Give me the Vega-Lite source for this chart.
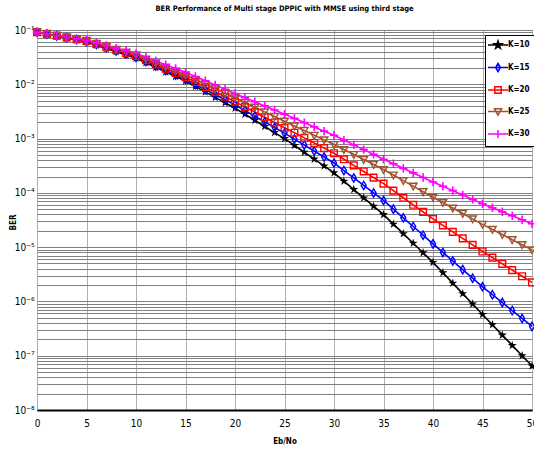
{
"$schema": "https://vega.github.io/schema/vega-lite/v6.json",
"width": 495, "height": 380,
"autosize": {"type": "none"},
"padding": {"left": 37, "top": 30, "right": 2, "bottom": 42},
"background": "white",
"title": {"text": "BER Performance of Multi stage DPPIC with MMSE  using third stage", "fontSize": 7.5, "fontWeight": "bold", "anchor": "middle", "offset": 12, "color": "black"},
"datasets": {"ber": [
{"EbNo":0,"K":"K=10","BER":9.12e-2},{"EbNo":1,"K":"K=10","BER":8.39e-2},{"EbNo":2,"K":"K=10","BER":7.73e-2},{"EbNo":3,"K":"K=10","BER":7.11e-2},{"EbNo":4,"K":"K=10","BER":6.55e-2},{"EbNo":5,"K":"K=10","BER":6.03e-2},{"EbNo":6,"K":"K=10","BER":5.25e-2},{"EbNo":7,"K":"K=10","BER":4.57e-2},{"EbNo":8,"K":"K=10","BER":3.98e-2},{"EbNo":9,"K":"K=10","BER":3.47e-2},
{"EbNo":10,"K":"K=10","BER":3.02e-2},{"EbNo":11,"K":"K=10","BER":2.49e-2},{"EbNo":12,"K":"K=10","BER":2.05e-2},{"EbNo":13,"K":"K=10","BER":1.69e-2},{"EbNo":14,"K":"K=10","BER":1.39e-2},{"EbNo":15,"K":"K=10","BER":1.15e-2},{"EbNo":16,"K":"K=10","BER":9.12e-3},{"EbNo":17,"K":"K=10","BER":7.24e-3},{"EbNo":18,"K":"K=10","BER":5.75e-3},{"EbNo":19,"K":"K=10","BER":4.57e-3},
{"EbNo":20,"K":"K=10","BER":3.63e-3},{"EbNo":21,"K":"K=10","BER":2.81e-3},{"EbNo":22,"K":"K=10","BER":2.17e-3},{"EbNo":23,"K":"K=10","BER":1.67e-3},{"EbNo":24,"K":"K=10","BER":1.29e-3},{"EbNo":25,"K":"K=10","BER":1.00e-3},{"EbNo":26,"K":"K=10","BER":7.48e-4},{"EbNo":27,"K":"K=10","BER":5.60e-4},{"EbNo":28,"K":"K=10","BER":4.19e-4},{"EbNo":29,"K":"K=10","BER":3.13e-4},
{"EbNo":30,"K":"K=10","BER":2.34e-4},{"EbNo":31,"K":"K=10","BER":1.64e-4},{"EbNo":32,"K":"K=10","BER":1.15e-4},{"EbNo":33,"K":"K=10","BER":8.09e-5},{"EbNo":34,"K":"K=10","BER":5.68e-5},{"EbNo":35,"K":"K=10","BER":3.98e-5},{"EbNo":36,"K":"K=10","BER":2.65e-5},{"EbNo":37,"K":"K=10","BER":1.77e-5},{"EbNo":38,"K":"K=10","BER":1.18e-5},{"EbNo":39,"K":"K=10","BER":7.87e-6},
{"EbNo":40,"K":"K=10","BER":5.25e-6},{"EbNo":41,"K":"K=10","BER":3.37e-6},{"EbNo":42,"K":"K=10","BER":2.17e-6},{"EbNo":43,"K":"K=10","BER":1.39e-6},{"EbNo":44,"K":"K=10","BER":8.95e-7},{"EbNo":45,"K":"K=10","BER":5.75e-7},{"EbNo":46,"K":"K=10","BER":3.72e-7},{"EbNo":47,"K":"K=10","BER":2.40e-7},{"EbNo":48,"K":"K=10","BER":1.55e-7},{"EbNo":49,"K":"K=10","BER":1.00e-7},{"EbNo":50,"K":"K=10","BER":6.46e-8},
{"EbNo":0,"K":"K=15","BER":9.12e-2},{"EbNo":1,"K":"K=15","BER":8.43e-2},{"EbNo":2,"K":"K=15","BER":7.80e-2},{"EbNo":3,"K":"K=15","BER":7.21e-2},{"EbNo":4,"K":"K=15","BER":6.67e-2},{"EbNo":5,"K":"K=15","BER":6.17e-2},{"EbNo":6,"K":"K=15","BER":5.40e-2},{"EbNo":7,"K":"K=15","BER":4.72e-2},{"EbNo":8,"K":"K=15","BER":4.13e-2},{"EbNo":9,"K":"K=15","BER":3.61e-2},
{"EbNo":10,"K":"K=15","BER":3.16e-2},{"EbNo":11,"K":"K=15","BER":2.62e-2},{"EbNo":12,"K":"K=15","BER":2.17e-2},{"EbNo":13,"K":"K=15","BER":1.79e-2},{"EbNo":14,"K":"K=15","BER":1.49e-2},{"EbNo":15,"K":"K=15","BER":1.23e-2},{"EbNo":16,"K":"K=15","BER":9.91e-3},{"EbNo":17,"K":"K=15","BER":7.98e-3},{"EbNo":18,"K":"K=15","BER":6.43e-3},{"EbNo":19,"K":"K=15","BER":5.18e-3},
{"EbNo":20,"K":"K=15","BER":4.17e-3},{"EbNo":21,"K":"K=15","BER":3.28e-3},{"EbNo":22,"K":"K=15","BER":2.58e-3},{"EbNo":23,"K":"K=15","BER":2.03e-3},{"EbNo":24,"K":"K=15","BER":1.60e-3},{"EbNo":25,"K":"K=15","BER":1.26e-3},{"EbNo":26,"K":"K=15","BER":9.77e-4},{"EbNo":27,"K":"K=15","BER":7.59e-4},{"EbNo":28,"K":"K=15","BER":5.89e-4},{"EbNo":29,"K":"K=15","BER":4.57e-4},
{"EbNo":30,"K":"K=15","BER":3.55e-4},{"EbNo":31,"K":"K=15","BER":2.58e-4},{"EbNo":32,"K":"K=15","BER":1.88e-4},{"EbNo":33,"K":"K=15","BER":1.37e-4},{"EbNo":34,"K":"K=15","BER":9.95e-5},{"EbNo":35,"K":"K=15","BER":7.24e-5},{"EbNo":36,"K":"K=15","BER":5.01e-5},{"EbNo":37,"K":"K=15","BER":3.47e-5},{"EbNo":38,"K":"K=15","BER":2.40e-5},{"EbNo":39,"K":"K=15","BER":1.66e-5},
{"EbNo":40,"K":"K=15","BER":1.15e-5},{"EbNo":41,"K":"K=15","BER":7.98e-6},{"EbNo":42,"K":"K=15","BER":5.55e-6},{"EbNo":43,"K":"K=15","BER":3.85e-6},{"EbNo":44,"K":"K=15","BER":2.68e-6},{"EbNo":45,"K":"K=15","BER":1.86e-6},{"EbNo":46,"K":"K=15","BER":1.33e-6},{"EbNo":47,"K":"K=15","BER":9.51e-7},{"EbNo":48,"K":"K=15","BER":6.79e-7},{"EbNo":49,"K":"K=15","BER":4.85e-7},{"EbNo":50,"K":"K=15","BER":3.47e-7},
{"EbNo":0,"K":"K=20","BER":9.12e-2},{"EbNo":1,"K":"K=20","BER":8.47e-2},{"EbNo":2,"K":"K=20","BER":7.87e-2},{"EbNo":3,"K":"K=20","BER":7.31e-2},{"EbNo":4,"K":"K=20","BER":6.79e-2},{"EbNo":5,"K":"K=20","BER":6.31e-2},{"EbNo":6,"K":"K=20","BER":5.55e-2},{"EbNo":7,"K":"K=20","BER":4.88e-2},{"EbNo":8,"K":"K=20","BER":4.29e-2},{"EbNo":9,"K":"K=20","BER":3.77e-2},
{"EbNo":10,"K":"K=20","BER":3.31e-2},{"EbNo":11,"K":"K=20","BER":2.77e-2},{"EbNo":12,"K":"K=20","BER":2.31e-2},{"EbNo":13,"K":"K=20","BER":1.93e-2},{"EbNo":14,"K":"K=20","BER":1.61e-2},{"EbNo":15,"K":"K=20","BER":1.35e-2},{"EbNo":16,"K":"K=20","BER":1.10e-2},{"EbNo":17,"K":"K=20","BER":8.91e-3},{"EbNo":18,"K":"K=20","BER":7.24e-3},{"EbNo":19,"K":"K=20","BER":5.89e-3},
{"EbNo":20,"K":"K=20","BER":4.79e-3},{"EbNo":21,"K":"K=20","BER":3.84e-3},{"EbNo":22,"K":"K=20","BER":3.08e-3},{"EbNo":23,"K":"K=20","BER":2.47e-3},{"EbNo":24,"K":"K=20","BER":1.98e-3},{"EbNo":25,"K":"K=20","BER":1.58e-3},{"EbNo":26,"K":"K=20","BER":1.28e-3},{"EbNo":27,"K":"K=20","BER":1.03e-3},{"EbNo":28,"K":"K=20","BER":8.28e-4},{"EbNo":29,"K":"K=20","BER":6.67e-4},
{"EbNo":30,"K":"K=20","BER":5.37e-4},{"EbNo":31,"K":"K=20","BER":4.15e-4},{"EbNo":32,"K":"K=20","BER":3.21e-4},{"EbNo":33,"K":"K=20","BER":2.48e-4},{"EbNo":34,"K":"K=20","BER":1.91e-4},{"EbNo":35,"K":"K=20","BER":1.48e-4},{"EbNo":36,"K":"K=20","BER":1.10e-4},{"EbNo":37,"K":"K=20","BER":8.13e-5},{"EbNo":38,"K":"K=20","BER":6.03e-5},{"EbNo":39,"K":"K=20","BER":4.47e-5},
{"EbNo":40,"K":"K=20","BER":3.31e-5},{"EbNo":41,"K":"K=20","BER":2.51e-5},{"EbNo":42,"K":"K=20","BER":1.91e-5},{"EbNo":43,"K":"K=20","BER":1.45e-5},{"EbNo":44,"K":"K=20","BER":1.10e-5},{"EbNo":45,"K":"K=20","BER":8.32e-6},{"EbNo":46,"K":"K=20","BER":6.40e-6},{"EbNo":47,"K":"K=20","BER":4.92e-6},{"EbNo":48,"K":"K=20","BER":3.78e-6},{"EbNo":49,"K":"K=20","BER":2.91e-6},{"EbNo":50,"K":"K=20","BER":2.24e-6},
{"EbNo":0,"K":"K=25","BER":9.12e-2},{"EbNo":1,"K":"K=25","BER":8.47e-2},{"EbNo":2,"K":"K=25","BER":7.87e-2},{"EbNo":3,"K":"K=25","BER":7.31e-2},{"EbNo":4,"K":"K=25","BER":6.79e-2},{"EbNo":5,"K":"K=25","BER":6.31e-2},{"EbNo":6,"K":"K=25","BER":5.60e-2},{"EbNo":7,"K":"K=25","BER":4.97e-2},{"EbNo":8,"K":"K=25","BER":4.41e-2},{"EbNo":9,"K":"K=25","BER":3.91e-2},
{"EbNo":10,"K":"K=25","BER":3.47e-2},{"EbNo":11,"K":"K=25","BER":2.92e-2},{"EbNo":12,"K":"K=25","BER":2.47e-2},{"EbNo":13,"K":"K=25","BER":2.08e-2},{"EbNo":14,"K":"K=25","BER":1.75e-2},{"EbNo":15,"K":"K=25","BER":1.48e-2},{"EbNo":16,"K":"K=25","BER":1.22e-2},{"EbNo":17,"K":"K=25","BER":1.00e-2},{"EbNo":18,"K":"K=25","BER":8.28e-3},{"EbNo":19,"K":"K=25","BER":6.82e-3},
{"EbNo":20,"K":"K=25","BER":5.62e-3},{"EbNo":21,"K":"K=25","BER":4.61e-3},{"EbNo":22,"K":"K=25","BER":3.78e-3},{"EbNo":23,"K":"K=25","BER":3.10e-3},{"EbNo":24,"K":"K=25","BER":2.55e-3},{"EbNo":25,"K":"K=25","BER":2.09e-3},{"EbNo":26,"K":"K=25","BER":1.71e-3},{"EbNo":27,"K":"K=25","BER":1.41e-3},{"EbNo":28,"K":"K=25","BER":1.15e-3},{"EbNo":29,"K":"K=25","BER":9.46e-4},
{"EbNo":30,"K":"K=25","BER":7.76e-4},{"EbNo":31,"K":"K=25","BER":6.28e-4},{"EbNo":32,"K":"K=25","BER":5.08e-4},{"EbNo":33,"K":"K=25","BER":4.11e-4},{"EbNo":34,"K":"K=25","BER":3.33e-4},{"EbNo":35,"K":"K=25","BER":2.69e-4},{"EbNo":36,"K":"K=25","BER":2.13e-4},{"EbNo":37,"K":"K=25","BER":1.68e-4},{"EbNo":38,"K":"K=25","BER":1.33e-4},{"EbNo":39,"K":"K=25","BER":1.05e-4},
{"EbNo":40,"K":"K=25","BER":8.32e-5},{"EbNo":41,"K":"K=25","BER":6.61e-5},{"EbNo":42,"K":"K=25","BER":5.25e-5},{"EbNo":43,"K":"K=25","BER":4.17e-5},{"EbNo":44,"K":"K=25","BER":3.31e-5},{"EbNo":45,"K":"K=25","BER":2.63e-5},{"EbNo":46,"K":"K=25","BER":2.12e-5},{"EbNo":47,"K":"K=25","BER":1.71e-5},{"EbNo":48,"K":"K=25","BER":1.37e-5},{"EbNo":49,"K":"K=25","BER":1.11e-5},{"EbNo":50,"K":"K=25","BER":8.91e-6},
{"EbNo":0,"K":"K=30","BER":9.12e-2},{"EbNo":1,"K":"K=30","BER":8.51e-2},{"EbNo":2,"K":"K=30","BER":7.94e-2},{"EbNo":3,"K":"K=30","BER":7.41e-2},{"EbNo":4,"K":"K=30","BER":6.92e-2},{"EbNo":5,"K":"K=30","BER":6.46e-2},{"EbNo":6,"K":"K=30","BER":5.78e-2},{"EbNo":7,"K":"K=30","BER":5.18e-2},{"EbNo":8,"K":"K=30","BER":4.63e-2},{"EbNo":9,"K":"K=30","BER":4.15e-2},
{"EbNo":10,"K":"K=30","BER":3.72e-2},{"EbNo":11,"K":"K=30","BER":3.16e-2},{"EbNo":12,"K":"K=30","BER":2.69e-2},{"EbNo":13,"K":"K=30","BER":2.29e-2},{"EbNo":14,"K":"K=30","BER":1.95e-2},{"EbNo":15,"K":"K=30","BER":1.66e-2},{"EbNo":16,"K":"K=30","BER":1.39e-2},{"EbNo":17,"K":"K=30","BER":1.16e-2},{"EbNo":18,"K":"K=30","BER":9.68e-3},{"EbNo":19,"K":"K=30","BER":8.09e-3},
{"EbNo":20,"K":"K=30","BER":6.76e-3},{"EbNo":21,"K":"K=30","BER":5.68e-3},{"EbNo":22,"K":"K=30","BER":4.76e-3},{"EbNo":23,"K":"K=30","BER":4.00e-3},{"EbNo":24,"K":"K=30","BER":3.36e-3},{"EbNo":25,"K":"K=30","BER":2.82e-3},{"EbNo":26,"K":"K=30","BER":2.36e-3},{"EbNo":27,"K":"K=30","BER":1.97e-3},{"EbNo":28,"K":"K=30","BER":1.64e-3},{"EbNo":29,"K":"K=30","BER":1.37e-3},
{"EbNo":30,"K":"K=30","BER":1.15e-3},{"EbNo":31,"K":"K=30","BER":9.38e-4},{"EbNo":32,"K":"K=30","BER":7.66e-4},{"EbNo":33,"K":"K=30","BER":6.25e-4},{"EbNo":34,"K":"K=30","BER":5.11e-4},{"EbNo":35,"K":"K=30","BER":4.17e-4},{"EbNo":36,"K":"K=30","BER":3.44e-4},{"EbNo":37,"K":"K=30","BER":2.83e-4},{"EbNo":38,"K":"K=30","BER":2.33e-4},{"EbNo":39,"K":"K=30","BER":1.92e-4},
{"EbNo":40,"K":"K=30","BER":1.58e-4},{"EbNo":41,"K":"K=30","BER":1.32e-4},{"EbNo":42,"K":"K=30","BER":1.10e-4},{"EbNo":43,"K":"K=30","BER":9.12e-5},{"EbNo":44,"K":"K=30","BER":7.59e-5},{"EbNo":45,"K":"K=30","BER":6.31e-5},{"EbNo":46,"K":"K=30","BER":5.32e-5},{"EbNo":47,"K":"K=30","BER":4.49e-5},{"EbNo":48,"K":"K=30","BER":3.78e-5},{"EbNo":49,"K":"K=30","BER":3.19e-5},{"EbNo":50,"K":"K=30","BER":2.69e-5}
]},
"data": {"name": "ber"},
"encoding": {
  "x": {"field": "EbNo", "type": "quantitative", "title": "Eb/No",
        "scale": {"domain": [0, 50], "nice": false, "zero": false},
        "axis": {"values": [0,5,10,15,20,25,30,35,40,45,50], "grid": true, "gridColor": "#b0b0b0", "gridWidth": 1,
                 "ticks": false, "labelPadding": 8, "labelFontSize": 10, "labelColor": "black", "labelFlush": false,
                 "domainColor": "black", "domainWidth": 2,
                 "titleFontSize": 8, "titleFontWeight": "bold", "titleColor": "black", "titleY": 31, "titleBaseline": "middle"}},
  "y": {"field": "BER", "type": "quantitative", "title": "BER",
        "scale": {"type": "log", "domain": [1e-8, 0.1], "nice": false},
        "axis": {"values": [1e-8,2e-8,3e-8,4e-8,5e-8,6e-8,7e-8,8e-8,9e-8,1e-7,2e-7,3e-7,4e-7,5e-7,6e-7,7e-7,8e-7,9e-7,1e-6,2e-6,3e-6,4e-6,5e-6,6e-6,7e-6,8e-6,9e-6,1e-5,2e-5,3e-5,4e-5,5e-5,6e-5,7e-5,8e-5,9e-5,1e-4,2e-4,3e-4,4e-4,5e-4,6e-4,7e-4,8e-4,9e-4,1e-3,2e-3,3e-3,4e-3,5e-3,6e-3,7e-3,8e-3,9e-3,1e-2,2e-2,3e-2,4e-2,5e-2,6e-2,7e-2,8e-2,9e-2,1e-1],
                 "labelExpr": "abs(log(datum.value)/LN10 - round(log(datum.value)/LN10)) < 0.01 ? '10' + ['⁰','⁻¹','⁻²','⁻³','⁻⁴','⁻⁵','⁻⁶','⁻⁷','⁻⁸'][round(-log(datum.value)/LN10)] : ''",
                 "labelOverlap": false, "labelFlush": false,
                 "grid": true, "gridColor": "#808080", "gridWidth": 1, "ticks": false, "domain": false,
                 "labelPadding": 3, "labelFontSize": 10, "labelColor": "black",
                 "titleFontSize": 8, "titleFontWeight": "bold", "titleColor": "black", "titleX": -20, "titleY": 192}}
},
"layer": [
  {"mark": {"type": "line", "strokeWidth": 1.6, "clip": true},
   "encoding": {
     "color": {"field": "K", "type": "nominal",
               "scale": {"domain": ["K=10","K=15","K=20","K=25","K=30"], "range": ["#000000","#0000ff","#ff0000","#a0522d","#ff00ff"]},
               "legend": {"title": null, "orient": "none", "legendX": 448, "legendY": 5, "padding": 5, "rowPadding": 8.5,
                          "strokeColor": "black", "fillColor": "white", "cornerRadius": 0,
                          "symbolSize": 64, "symbolOffset": 3, "labelOffset": 5, "symbolStrokeWidth": 1.5,
                          "labelFontSize": 8, "labelFontWeight": "bold", "labelColor": "black",
                          "encode": {"symbols": {"update": {
                            "shape": {"signal": "datum.value === 'K=10' ? 'M-2.5,0H2.5M0,-1L0.223,-0.307L0.951,-0.309L0.361,0.117L0.588,0.809L0,0.38L-0.588,0.809L-0.361,0.117L-0.951,-0.309L-0.223,-0.307Z' : datum.value === 'K=15' ? 'M-2.5,0H2.5M0,-1L0.6,0L0,1L-0.6,0Z' : datum.value === 'K=20' ? 'M-2.5,0H2.5M-0.8,-0.8H0.8V0.8H-0.8Z' : datum.value === 'K=25' ? 'M-2.5,0H2.5M-0.9,-0.7H0.9L0,0.9Z' : 'M-2.5,0H2.5M0,-1V1'"},
                            "fill": {"signal": "datum.value === 'K=10' ? 'black' : 'transparent'"},
                            "strokeWidth": {"value": 1.5}}}}}},
     "order": {"field": "EbNo"}}},
  {"transform": [{"filter": "datum.K === 'K=10'"}],
   "mark": {"type": "point", "size": 90, "strokeWidth": 1, "filled": true, "color": "#000000", "opacity": 1,
            "shape": "M0,-1L0.223,-0.307L0.951,-0.309L0.361,0.117L0.588,0.809L0,0.38L-0.588,0.809L-0.361,0.117L-0.951,-0.309L-0.223,-0.307Z"}},
  {"transform": [{"filter": "datum.K === 'K=15'"}],
   "mark": {"type": "point", "size": 70, "strokeWidth": 1.4, "filled": false, "color": "#0000ff", "opacity": 1,
            "shape": "M0,-1L0.6,0L0,1L-0.6,0Z"}},
  {"transform": [{"filter": "datum.K === 'K=20'"}],
   "mark": {"type": "point", "size": 70, "strokeWidth": 1.4, "filled": false, "color": "#ff0000", "opacity": 1,
            "shape": "M-0.8,-0.8H0.8V0.8H-0.8Z"}},
  {"transform": [{"filter": "datum.K === 'K=25'"}],
   "mark": {"type": "point", "size": 70, "strokeWidth": 1.4, "filled": false, "color": "#a0522d", "opacity": 1,
            "shape": "M-0.9,-0.7H0.9L0,0.9Z"}},
  {"transform": [{"filter": "datum.K === 'K=30'"}],
   "mark": {"type": "point", "size": 70, "strokeWidth": 1.6, "filled": false, "color": "#ff00ff", "opacity": 1,
            "shape": "M-1,0H1M0,-1V1"}}
],
"config": {
  "font": "Liberation Sans Narrow, DejaVu Sans Condensed, sans-serif",
  "view": {"stroke": "black", "strokeWidth": 1}
}
}
